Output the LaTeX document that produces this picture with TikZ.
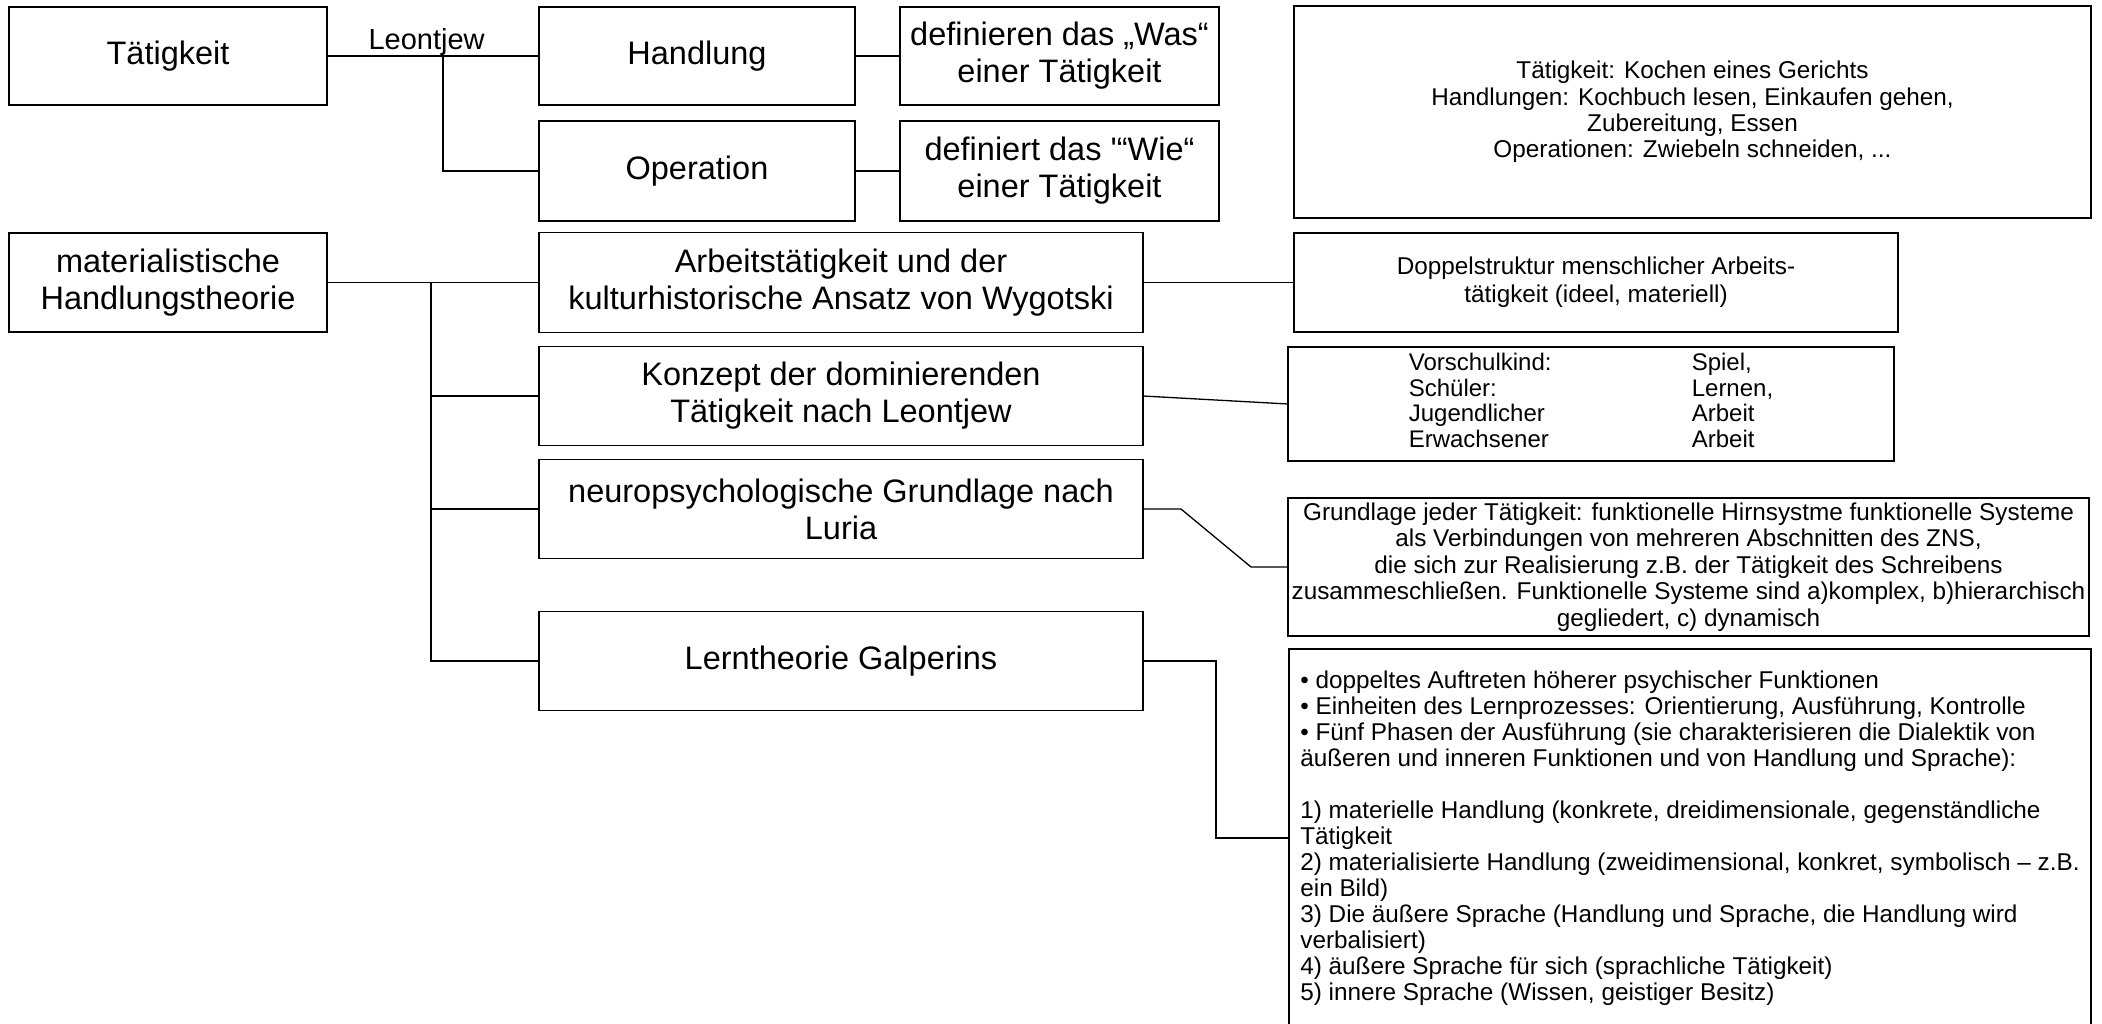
\documentclass[tikz,border=0pt]{standalone}
\usepackage{fontspec}
\setmainfont{Liberation Sans}[Ligatures=TeXOff]
\usepackage{tikz}
\usetikzlibrary{positioning}

\begin{document}
\begin{tikzpicture}[x=1pt,y=-1pt,line width=1.3pt,auto]
  \tikzstyle{bigbox}=[draw,rectangle,outer sep=0pt,inner sep=2pt,align=center,
                      minimum height=98pt,font=\fontsize{32.5}{37}\selectfont]
  \tikzstyle{notebox}=[draw,rectangle,outer sep=0pt,inner sep=2pt,align=center,
                       font=\fontsize{24.3}{26.3}\selectfont]

  \useasboundingbox (0,0) rectangle (2102,1024);

  \node[bigbox, minimum width=318pt]                      (taet)  at (168,56) {Tätigkeit};
  \node[bigbox, minimum width=316pt]                      (handl) [right=212pt of taet] {Handlung};
  \node[bigbox, minimum width=316pt, minimum height=100pt] (oper)  [below=16pt of handl] {Operation};
  \node[bigbox, minimum width=319pt]                      (was)   [right=45pt of handl] {definieren das „Was“\\einer Tätigkeit};
  \node[bigbox, minimum width=319pt, minimum height=100pt] (wie)   [right=45pt of oper] {definiert das '“Wie“\\einer Tätigkeit};
  \node[notebox, minimum width=797pt, minimum height=212pt, anchor=north west] (bsp) at (1294,6)
    {Tätigkeit: Kochen eines Gerichts\\Handlungen: Kochbuch lesen, Einkaufen gehen,\\Zubereitung, Essen\\Operationen: Zwiebeln schneiden, ...};

  \node[bigbox, minimum width=318pt, minimum height=99pt]  (mat)   [below=128pt of taet] {materialistische\\Handlungstheorie};
  \node[bigbox, minimum width=604pt, minimum height=100pt] (arb)   [right=212pt of mat] {Arbeitstätigkeit und der\\kulturhistorische Ansatz von Wygotski};
  \node[bigbox, minimum width=604pt, minimum height=99pt]  (konz)  [below=14pt of arb] {Konzept der dominierenden\\Tätigkeit nach Leontjew};
  \node[bigbox, minimum width=604pt, minimum height=99pt]  (luria) [below=14pt of konz] {neuropsychologische Grundlage nach\\Luria};
  \node[bigbox, minimum width=604pt, minimum height=99pt]  (galp)  [below=53pt of luria] {Lerntheorie Galperins};

  \node[notebox, minimum width=604pt, minimum height=99pt, font=\fontsize{24.3}{28}\selectfont] (dopp) [right=151pt of arb]
    {Doppelstruktur menschlicher Arbeits-\\tätigkeit (ideel, materiell)};
  \node[notebox, minimum width=606pt, minimum height=114pt, font=\fontsize{24}{25.7}\selectfont] (vors) at (1591,404)
    {\begin{tabular}{@{}p{283pt}@{}l@{}}Vorschulkind: & Spiel,\\ Schüler: & Lernen,\\ Jugendlicher & Arbeit\\ Erwachsener & Arbeit\end{tabular}};
  \node[notebox, minimum width=801pt, minimum height=138pt, font=\fontsize{24.3}{26.5}\selectfont] (grund) at (1688.5,567)
    {Grundlage jeder Tätigkeit: funktionelle Hirnsystme funktionelle Systeme\\
     als Verbindungen von mehreren Abschnitten des ZNS,\\
     die sich zur Realisierung z.B. der Tätigkeit des Schreibens\\
     zusammeschließen. Funktionelle Systeme sind a)komplex, b)hierarchisch\\
     gegliedert, c) dynamisch};
  \node[notebox, minimum width=802pt, minimum height=378pt, align=left, font=\fontsize{24.3}{26}\selectfont] (phas) at (1690,838)
    {• doppeltes Auftreten höherer psychischer Funktionen\\
     • Einheiten des Lernprozesses: Orientierung, Ausführung, Kontrolle\\
     • Fünf Phasen der Ausführung (sie charakterisieren die Dialektik von\\
     äußeren und inneren Funktionen und von Handlung und Sprache):\\[26pt]
     1) materielle Handlung (konkrete, dreidimensionale, gegenständliche\\
     Tätigkeit\\
     2) materialisierte Handlung (zweidimensional, konkret, symbolisch – z.B.\\
     ein Bild)\\
     3) Die äußere Sprache (Handlung und Sprache, die Handlung wird\\
     verbalisiert)\\
     4) äußere Sprache für sich (sprachliche Tätigkeit)\\
     5) innere Sprache (Wissen, geistiger Besitz)};

  \path (taet) edge node[pos=0.47, inner sep=0pt, font=\fontsize{29}{33}\selectfont] (leon) {Leontjew} (handl)
        (handl) edge (was)
        (oper) edge (wie)
        (mat) edge (arb)
        (arb) edge (dopp);

  \coordinate (lk) at (443,56);
  \coordinate (mk) at (431,282.5);
  \draw (lk) |- (oper.west);
  \draw (mk) |- (konz.west);
  \draw (mk) |- (luria.west);
  \draw (mk) |- (galp.west);
  \draw (konz.east) -- (vors.west);
  \draw (luria.east) -- ++(38,0) -- ++(70,58) -- (grund.west);
  \draw (galp.east) -- ++(73,0) |- (phas.west);
\end{tikzpicture}
\end{document}
